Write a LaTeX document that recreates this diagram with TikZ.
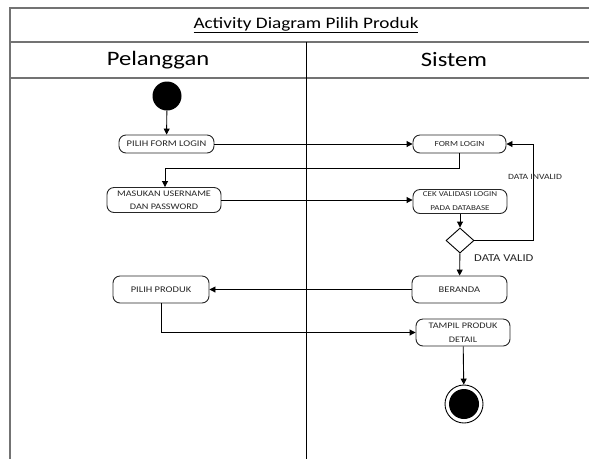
\documentclass[tikz,border=0pt]{standalone}
\usepackage{fontspec}
\setmainfont{Carlito}[FakeStretch=1.2]
\usetikzlibrary{shapes.geometric,arrows.meta}
\newcommand{\fs}[1]{\fontsize{#1}{#1}\selectfont}
\tikzset{
  frameline/.style={draw=black!55, line width=1.3pt},
  lane/.style={draw=black, line width=0.9pt},
  act/.style={draw=black!85, line width=0.9pt, rounded corners=7pt, align=center, inner sep=0pt, text=black!85},
  flow/.style={draw=black, line width=0.9pt, -{Triangle[length=6pt,width=6pt]}},
  lbl/.style={inner sep=0pt, text=black!85},
}
\begin{document}
\begin{tikzpicture}[x=1pt,y=-1pt]
\useasboundingbox (0,0) rectangle (589,459);
% frame
\draw[frameline] (589,8) -- (10,8) -- (10,459);
\draw[frameline] (10,42) -- (589,42);
\draw[frameline] (10,78) -- (589,78);
\draw[lane] (306.5,42) -- (306.5,459);
\node[lbl, text=black] (title) at (306,25) {\fs{16}\underline{Activity Diagram Pilih Produk}};
\node[lbl, text=black] (hp) at (158,60) {\fs{20.5}Pelanggan};
\node[lbl, text=black] (hs) at (454,60) {\fs{20.5}Sistem};
% nodes
\node[circle, fill=black, minimum size=29pt, inner sep=0pt] (start) at (167,96) {};
\node[act, minimum width=95pt, minimum height=18pt] (pfl) at (166.5,144) {\fs{8.7}PILIH FORM LOGIN};
\node[act, minimum width=93pt, minimum height=18pt] (fl) at (459.5,144) {\fs{7.8}FORM LOGIN};
\node[act, minimum width=114pt, minimum height=25pt] (mu) at (164,200) {\fs{8.5}MASUKAN USERNAME\\[1pt]\fs{8.5}DAN PASSWORD};
\node[act, minimum width=94pt, minimum height=24pt] (cek) at (460,201.5) {\fs{7.5}CEK VALIDASI LOGIN\\[2pt]\fs{7.5}PADA DATABASE};
\node[diamond, draw=black, line width=0.9pt, minimum width=28pt, minimum height=25pt, inner sep=0pt] (dec) at (460,240.5) {};
\node[act, minimum width=95pt, minimum height=27pt] (ber) at (459.5,289.5) {\fs{8.7}BERANDA};
\node[act, minimum width=96pt, minimum height=27pt] (pp) at (161,289.5) {\fs{8.7}PILIH PRODUK};
\node[act, minimum width=94pt, minimum height=27pt] (tp) at (463,332.5) {\fs{8.5}TAMPIL PRODUK\\[2pt]\fs{8.5}DETAIL};
\node[circle, draw=black, line width=0.9pt, minimum size=38pt, inner sep=0pt] (end) at (464,404) {};
\node[circle, fill=black, minimum size=30pt, inner sep=0pt] (endin) at (end.center) {};
% connectors
\draw[flow] (start) -- (pfl);
\draw[flow] (pfl.east) -- (fl.west);
\draw[flow] (fl.south) |- (165,168) -- (mu.north -| 165,0);
\draw[flow] (mu.east) -- (mu.east -| cek.west);
\draw[flow] (cek) -- (dec);
\draw[flow] (dec.east) -| (533,144) -- (fl.east);
\node[lbl, anchor=west] (inv) at (508,177) {\fs{8}DATA INVALID};
\draw[flow] (dec) -- (ber);
\node[lbl, anchor=west] (val) at (474,258) {\fs{10.5}DATA VALID};
\draw[flow] (ber) -- (pp);
\draw[flow] (pp.south) |- (tp.west);
\draw[flow] (tp) -- (end);
\end{tikzpicture}
\end{document}
